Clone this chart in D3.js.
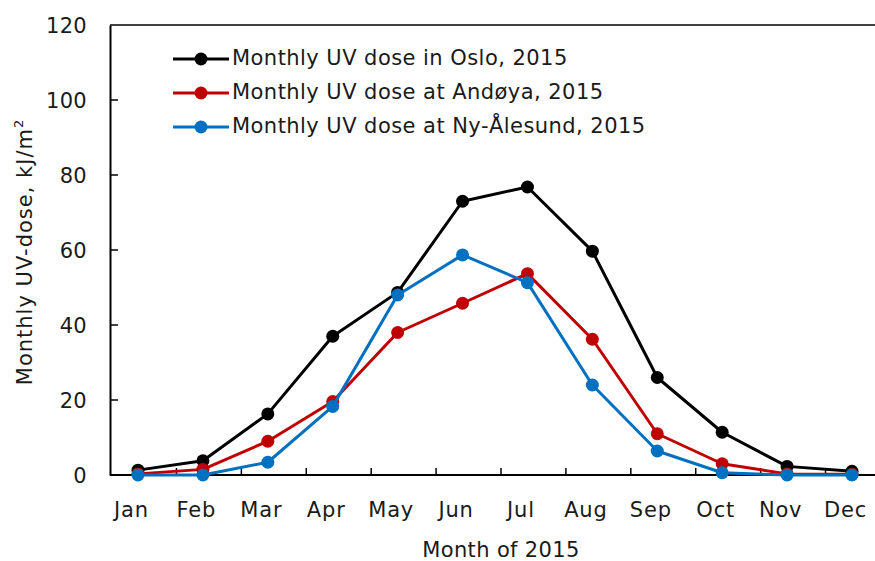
<!DOCTYPE html>
<html>
<head>
<meta charset="utf-8">
<script src="https://cdn.jsdelivr.net/npm/d3@7"></script>
<style>
  body { margin: 0; background: #fff; }
  text { font-family: "DejaVu Sans", Verdana, sans-serif; fill: #1a1a1a; }
</style>
</head>
<body>
<div id="chart"></div>
<script>
// =============================================================================
// data
// =============================================================================
var months = ["Jan", "Feb", "Mar", "Apr", "May", "Jun", "Jul", "Aug", "Sep", "Oct", "Nov", "Dec"];
var oslo = [1.3, 3.8, 16.3, 37.0, 48.7, 73.0, 76.8, 59.7, 26.0, 11.4, 2.3, 1.0];
var andoya = [0.3, 1.5, 9.0, 19.6, 38.0, 45.8, 53.7, 36.2, 11.0, 3.0, 0.3, 0.2];
var nyAlesund = [0.0, 0.0, 3.4, 18.3, 48.0, 58.7, 51.3, 24.0, 6.4, 0.6, 0.0, 0.0];
var seriesNames = ["Monthly UV dose in Oslo, 2015", "Monthly UV dose at Andøya, 2015", "Monthly UV dose at Ny-Ålesund, 2015"];
var yTicks = [0, 20, 40, 60, 80, 100, 120];

var series = [
    { name: seriesNames[0], values: oslo, color: "#000000" },
    { name: seriesNames[1], values: andoya, color: "#c00000" },
    { name: seriesNames[2], values: nyAlesund, color: "#0070c0" }
];

// =============================================================================
// UI
// =============================================================================
var width = 875, height = 561;
var _left = 110, _top = 25, _bottom = 475, _right = 875;

var svg = d3.select("#chart").append("svg")
    .attr("width", width)
    .attr("height", height);

var x = d3.scalePoint()
    .domain(months)
    .range([138, 852]);

var y = d3.scaleLinear()
    .domain([0, 120])
    .range([_bottom, _top]);

// frame top line
svg.append("line")
    .attr("x1", _left).attr("x2", _right)
    .attr("y1", _top).attr("y2", _top)
    .attr("stroke", "#404040")
    .attr("stroke-width", 2);

// Y axis
var yAxis = svg.append("g")
    .attr("transform", "translate(" + _left + ",0)")
    .call(d3.axisLeft(y).tickValues(yTicks).tickSize(0).tickPadding(23));
yAxis.select(".domain").attr("stroke", "#000").attr("stroke-width", 2);
yAxis.selectAll("text")
    .style("font-size", "21px")
    .style("letter-spacing", "0.3px")
    .attr("dy", "0.36em");

// inner y ticks
svg.append("g").selectAll("line")
    .data(yTicks.slice(1, -1))
    .join("line")
    .attr("x1", _left).attr("x2", _left + 8)
    .attr("y1", function (d) { return y(d); })
    .attr("y2", function (d) { return y(d); })
    .attr("stroke", "#000")
    .attr("stroke-width", 1.5);

// X axis
var xAxis = svg.append("g")
    .attr("transform", "translate(0," + _bottom + ")")
    .call(d3.axisBottom(x).tickSize(0).tickPadding(27));
xAxis.select(".domain").remove();
xAxis.selectAll("text")
    .style("font-size", "21px")
    .style("letter-spacing", "0.8px")
    .attr("transform", "translate(-7,0)");

svg.append("line")
    .attr("x1", _left).attr("x2", _right)
    .attr("y1", _bottom).attr("y2", _bottom)
    .attr("stroke", "#000")
    .attr("stroke-width", 2);

// x tick marks between categories
svg.append("g").selectAll("line")
    .data(months.slice(0, -1))
    .join("line")
    .attr("x1", function (d) { return x(d) + x.step() / 2 + 6; })
    .attr("x2", function (d) { return x(d) + x.step() / 2 + 6; })
    .attr("y1", _bottom)
    .attr("y2", _bottom - 7)
    .attr("stroke", "#000")
    .attr("stroke-width", 1.5);

// axis labels
svg.append("text")
    .attr("text-anchor", "middle")
    .attr("transform", "translate(32,252) rotate(-90)")
    .style("font-size", "21px")
    .style("letter-spacing", "1px")
    .html("Monthly UV-dose, kJ/m<tspan dy='-9' font-size='13px'>2</tspan>");

svg.append("text")
    .attr("text-anchor", "middle")
    .attr("x", 501)
    .attr("y", 557)
    .style("font-size", "21px")
    .style("letter-spacing", "0.35px")
    .text("Month of 2015");

// lines and markers
var line = d3.line()
    .x(function (d, i) { return x(months[i]); })
    .y(function (d) { return y(d); });

series.forEach(function (s) {
    svg.append("path")
        .datum(s.values)
        .attr("fill", "none")
        .attr("stroke", s.color)
        .attr("stroke-width", 3)
        .attr("stroke-linejoin", "round")
        .attr("d", line);

    svg.append("g").selectAll("circle")
        .data(s.values)
        .join("circle")
        .attr("cx", function (d, i) { return x(months[i]); })
        .attr("cy", function (d) { return y(d); })
        .attr("r", 6.5)
        .attr("fill", s.color);
});

// legend
var legend = svg.append("g")
    .selectAll("g")
    .data(series)
    .join("g")
    .attr("transform", function (d, i) { return "translate(173," + (59 + i * 34) + ")"; });

legend.append("line")
    .attr("x1", 0).attr("x2", 56)
    .attr("stroke", function (d) { return d.color; })
    .attr("stroke-width", 3);

legend.append("circle")
    .attr("cx", 28)
    .attr("r", 6.5)
    .attr("fill", function (d) { return d.color; });

legend.append("text")
    .attr("x", 59)
    .attr("dy", "0.3em")
    .style("font-size", "21px")
    .style("letter-spacing", "0.45px")
    .text(function (d) { return d.name; });
</script>
</body>
</html>
